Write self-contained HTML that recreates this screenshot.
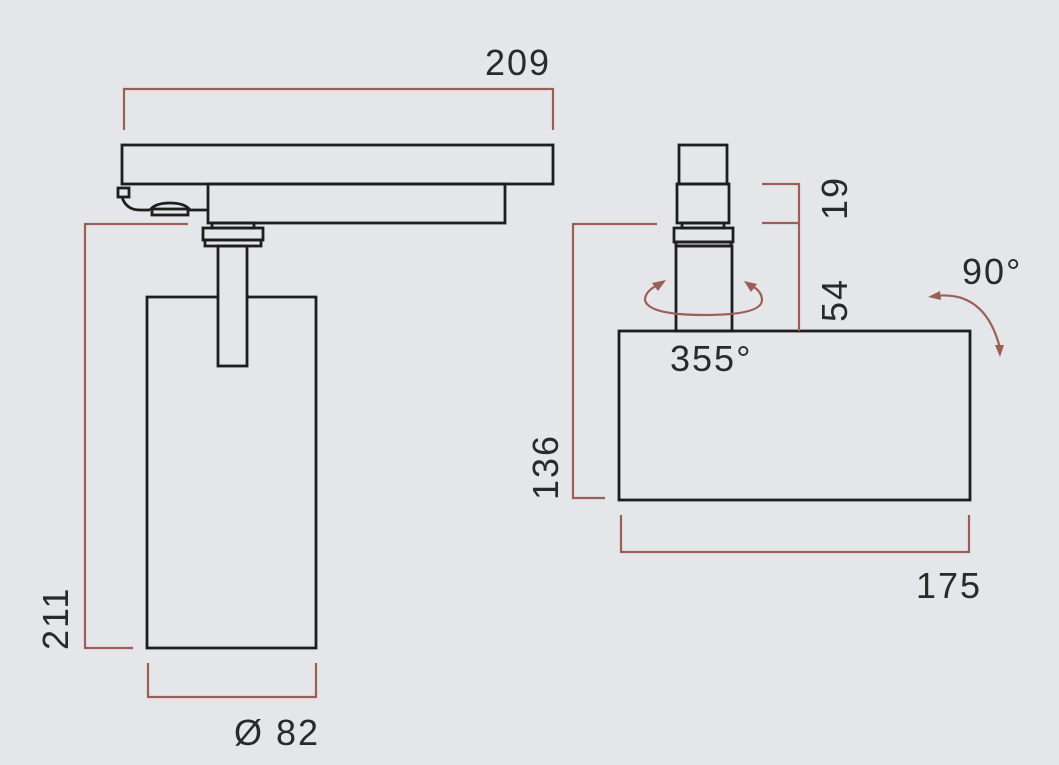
<!DOCTYPE html>
<html><head><meta charset="utf-8"><style>
html,body{margin:0;padding:0;background:#e5e6ea;}
svg{display:block}
text{font-family:"Liberation Sans",sans-serif;fill:#2a2a2a;font-size:36px;letter-spacing:2px;}
</style></head><body>
<svg width="1059" height="765" viewBox="0 0 1059 765" xmlns="http://www.w3.org/2000/svg">
<rect width="1059" height="765" fill="#e5e6ea"/>
<g fill="none" stroke="#1e1e1e" stroke-width="2.8">
<rect x="122" y="145" width="431" height="39"/>
<rect x="208" y="184" width="297" height="39"/>
<rect x="118" y="188" width="11" height="9"/>
<path d="M122 197 Q126 210 140 210 L150 210"/>
<path d="M150 210 Q155 203 170 203 Q185 203 190 210 L208 210"/>
<rect x="152" y="209" width="36" height="6"/>
<rect x="212" y="223" width="42" height="5"/>
<rect x="203" y="228" width="60" height="12"/>
<rect x="205" y="240" width="56" height="6"/>
<rect x="218" y="246" width="29" height="120"/>
<path d="M218 297 H147 V648 H316 V297 H247"/>
<rect x="679" y="145" width="48" height="39"/>
<rect x="677" y="184" width="52" height="39"/>
<rect x="682" y="223" width="42" height="5"/>
<rect x="674" y="228" width="59" height="14"/>
<rect x="676" y="242" width="55" height="4"/>
<rect x="676" y="246" width="56" height="85"/>
<rect x="619" y="331" width="351" height="169"/>
</g>
<g fill="none" stroke="#9b5f55" stroke-width="2.2">
<path d="M124 130 V89 H553 V130"/>
<path d="M188 224 H85 V648 H133"/>
<path d="M148 663 V697 H316 V663"/>
<path d="M762 184 H799 V331 M762 223 H799"/>
<path d="M657 224 H573 V498 H605"/>
<path d="M621 515 V552 H969 V515"/>
<path d="M662 283 Q645 290 645 300 Q648 315 705 315 Q762 315 762 300 Q762 290 748 284"/>
<path d="M935 296 Q985 290 1000 348"/>
</g>
<g fill="#9b5f55">
<polygon points="666,280 652,283 658,291"/>
<polygon points="744,281 757,284 751,292"/>
<polygon points="928,297 940,291 941,300"/>
<polygon points="1000,357 995,345 1004,345"/>
</g>
<text x="485" y="75">209</text>
<text x="234" y="745">Ø 82</text>
<text transform="translate(68,650) rotate(-90)">211</text>
<text x="670" y="371">355°</text>
<text x="962" y="284">90°</text>
<text x="916" y="598">175</text>
<text transform="translate(558,500) rotate(-90)">136</text>
<text transform="translate(847,220) rotate(-90)">19</text>
<text transform="translate(847,322) rotate(-90)">54</text>
</svg>
</body></html>
